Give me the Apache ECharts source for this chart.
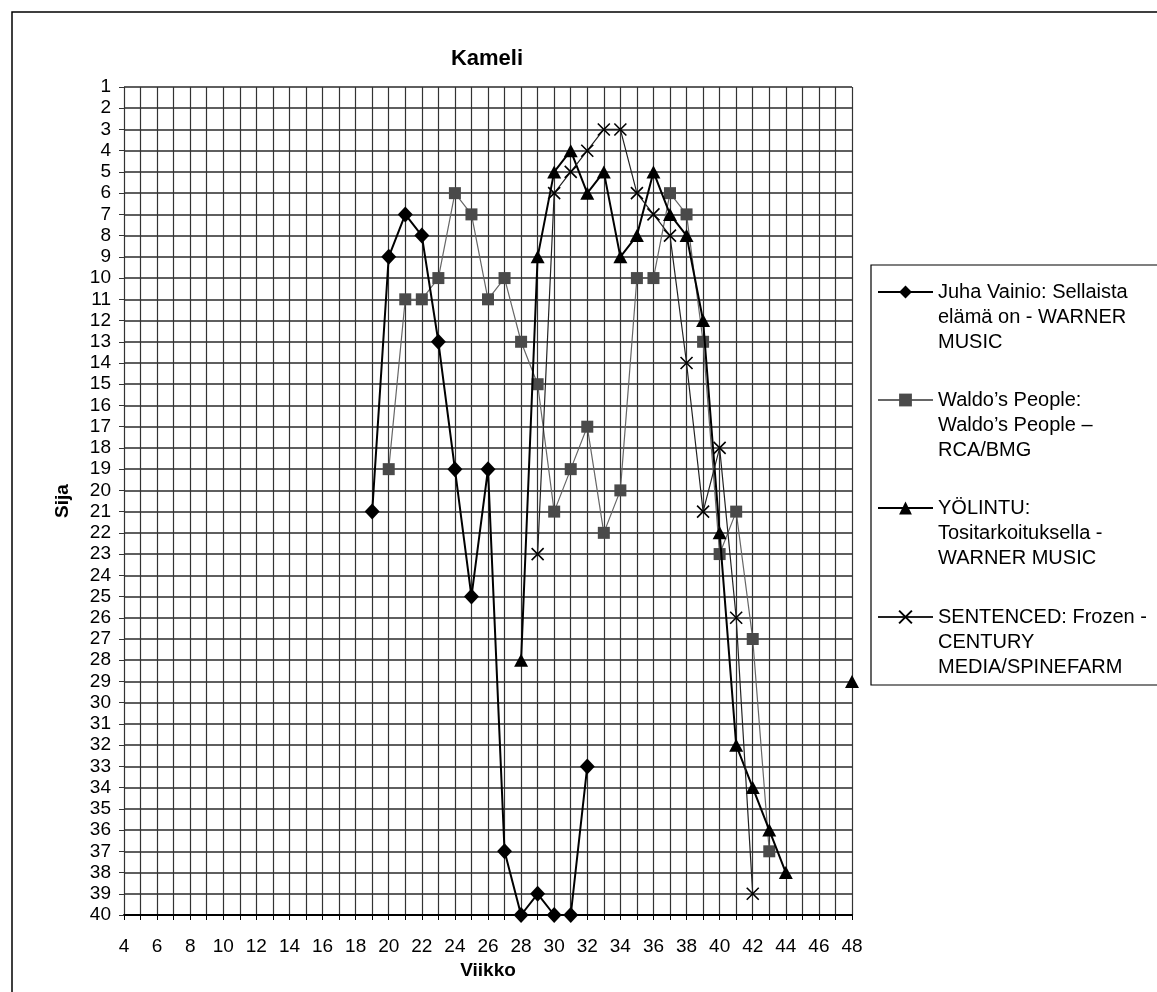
<!DOCTYPE html>
<html>
<head>
<meta charset="utf-8">
<script src="https://cdn.jsdelivr.net/npm/echarts@6/dist/echarts.min.js"></script>
<style>
html, body { margin: 0; padding: 0; background: #fff; }
#chart { width: 1157px; height: 992px; }
</style>
</head>
<body>
<div id="chart"></div>
<script>
// Chart ranks (Sija) per week (Viikko)
const seriesNames = [
  'Juha Vainio: Sellaista elämä on - WARNER MUSIC',
  'Waldo’s People: Waldo’s People – RCA/BMG',
  'YÖLINTU: Tositarkoituksella - WARNER MUSIC',
  'SENTENCED: Frozen - CENTURY MEDIA/SPINEFARM'
];
const legendLines = [
  ['Juha Vainio: Sellaista', 'elämä on - WARNER', 'MUSIC'],
  ['Waldo’s People:', 'Waldo’s People –', 'RCA/BMG'],
  ['YÖLINTU:', 'Tositarkoituksella -', 'WARNER MUSIC'],
  ['SENTENCED: Frozen -', 'CENTURY', 'MEDIA/SPINEFARM']
];

const juhaWeeks = [19, 20, 21, 22, 23, 24, 25, 26, 27, 28, 29, 30, 31, 32];
const juhaRanks = [21, 9, 7, 8, 13, 19, 25, 19, 37, 40, 39, 40, 40, 33];

const waldoWeeks = [20, 21, 22, 23, 24, 25, 26, 27, 28, 29, 30, 31, 32, 33, 34, 35, 36, 37, 38, 39, 40, 41, 42, 43];
const waldoRanks = [19, 11, 11, 10, 6, 7, 11, 10, 13, 15, 21, 19, 17, 22, 20, 10, 10, 6, 7, 13, 23, 21, 27, 37];

// '-' marks the weeks off the chart, which breaks the line
const yolintuWeeks = [28, 29, 30, 31, 32, 33, 34, 35, 36, 37, 38, 39, 40, 41, 42, 43, 44, 45, 48];
const yolintuRanks = [28, 9, 5, 4, 6, 5, 9, 8, 5, 7, 8, 12, 22, 32, 34, 36, 38, '-', 29];

const sentencedWeeks = [29, 30, 31, 32, 33, 34, 35, 36, 37, 38, 39, 40, 41, 42];
const sentencedRanks = [23, 6, 5, 4, 3, 3, 6, 7, 8, 14, 21, 18, 26, 39];

const weekMin = 4, weekMax = 48;
const rankMin = 1, rankMax = 40;

function pairs(weeks, ranks) {
  return weeks.map((w, i) => [w, ranks[i]]);
}

const FONT = '"Liberation Sans", Arial, Helvetica, sans-serif';
const crossPath = 'path://M0,0L10,10M10,0L0,10';

const gridBox = { left: 124, top: 87, width: 728, height: 828 };

// Legend entries: the icon sits on the first text line. Two blank
// lines in front of each label move that line onto the icon's centre.
const legendCenters = [292, 400, 508, 617];
const LINE_H = 25;
const legends = seriesNames.map((name, i) => ({
  data: [name],
  left: 877,
  top: legendCenters[i] - LINE_H * 2.5,
  orient: 'vertical',
  padding: 0,
  itemWidth: 55,
  itemHeight: 16,
  selectedMode: false,
  formatter: () => '\n\n' + legendLines[i].join('\n'),
  textStyle: {
    fontFamily: FONT,
    fontSize: 20,
    color: '#000',
    lineHeight: LINE_H
  }
}));

const chart = echarts.init(document.getElementById('chart'), null, { renderer: 'canvas' });

chart.setOption({
  animation: false,
  backgroundColor: '#fff',
  title: {
    text: 'Kameli',
    left: 487,
    top: 48,
    padding: 0,
    textAlign: 'center',
    textStyle: { fontFamily: FONT, fontSize: 22, fontWeight: 'bold', color: '#000' }
  },
  graphic: [
    {
      type: 'rect',
      shape: { x: 12, y: 12, width: 1200, height: 1050 },
      style: { fill: 'none', stroke: '#000', lineWidth: 1.5 },
      z: -1
    },
    {
      type: 'rect',
      shape: { x: 871, y: 265, width: 320, height: 420 },
      style: { fill: '#fff', stroke: '#000', lineWidth: 1.2 },
      z: 0
    }
  ],
  legend: legends,
  grid: gridBox,
  xAxis: {
    type: 'value',
    min: weekMin,
    max: weekMax,
    interval: 1,
    name: 'Viikko',
    nameLocation: 'middle',
    nameGap: 44,
    nameTextStyle: { fontFamily: FONT, fontSize: 19, fontWeight: 'bold', color: '#000' },
    axisLine: { show: true, onZero: false, lineStyle: { color: '#000', width: 2 } },
    axisTick: { show: true, length: 5, lineStyle: { color: '#000', width: 1 } },
    axisLabel: {
      margin: 22,
      fontFamily: FONT,
      fontSize: 19,
      color: '#000',
      formatter: v => (v % 2 === 0 ? String(v) : '')
    },
    splitLine: { show: true, lineStyle: { color: '#333', width: 1.2 } }
  },
  yAxis: {
    type: 'value',
    inverse: true,
    min: rankMin,
    max: rankMax,
    interval: 1,
    name: 'Sija',
    nameLocation: 'middle',
    nameGap: 52,
    nameRotate: 90,
    nameTextStyle: { fontFamily: FONT, fontSize: 19, fontWeight: 'bold', color: '#000' },
    axisLine: { show: false },
    axisTick: { show: true, length: 5, lineStyle: { color: '#333', width: 1 } },
    axisLabel: { margin: 13, fontFamily: FONT, fontSize: 19, color: '#000' },
    splitLine: { show: true, lineStyle: { color: '#2a2a2a', width: 1.6 } }
  },
  series: [
    {
      name: seriesNames[0],
      type: 'line',
      data: pairs(juhaWeeks, juhaRanks),
      symbol: 'diamond',
      symbolSize: [15, 16],
      lineStyle: { color: '#000', width: 2 },
      itemStyle: { color: '#000' },
      z: 4
    },
    {
      name: seriesNames[1],
      type: 'line',
      data: pairs(waldoWeeks, waldoRanks),
      symbol: 'rect',
      symbolSize: 12,
      lineStyle: { color: '#666', width: 1.2 },
      itemStyle: { color: '#4a4a4a' },
      z: 3
    },
    {
      name: seriesNames[2],
      type: 'line',
      data: pairs(yolintuWeeks, yolintuRanks),
      connectNulls: false,
      symbol: 'triangle',
      symbolSize: [14, 13],
      lineStyle: { color: '#000', width: 2 },
      itemStyle: { color: '#000' },
      z: 5
    },
    {
      name: seriesNames[3],
      type: 'line',
      data: pairs(sentencedWeeks, sentencedRanks),
      symbol: crossPath,
      symbolSize: 12,
      lineStyle: { color: '#222', width: 1.2 },
      itemStyle: { color: '#000', borderColor: '#000', borderWidth: 1.6 },
      z: 6
    }
  ]
});
</script>
</body>
</html>
